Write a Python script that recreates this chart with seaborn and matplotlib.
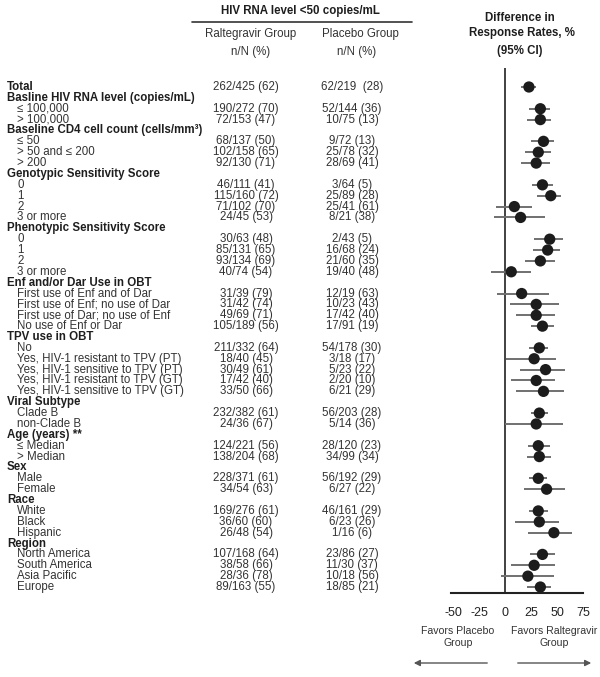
import seaborn as sns
import matplotlib.pyplot as plt
import numpy as np
import pandas as pd

# subgroup rows (bold = heading)
labels = [
    "Total", "Basline HIV RNA level (copies/mL)", "\u2264 100,000", "> 100,000",
    "Baseline CD4 cell count (cells/mm\u00b3)", "\u2264 50", "> 50 and \u2264 200", "> 200",
    "Genotypic Sensitivity Score", "0", "1", "2", "3 or more",
    "Phenotypic Sensitivity Score", "0", "1", "2", "3 or more",
    "Enf and/or Dar Use in OBT", "First use of Enf and of Dar", "First use of Enf; no use of Dar",
    "First use of Dar; no use of Enf", "No use of Enf or Dar",
    "TPV use in OBT", "No", "Yes, HIV-1 resistant to TPV (PT)", "Yes, HIV-1 sensitive to TPV (PT)",
    "Yes, HIV-1 resistant to TPV (GT)", "Yes, HIV-1 sensitive to TPV (GT)",
    "Viral Subtype", "Clade B", "non-Clade B",
    "Age (years) **", "\u2264 Median", "> Median",
    "Sex", "Male", "Female",
    "Race", "White", "Black", "Hispanic",
    "Region", "North America", "South America", "Asia Pacific", "Europe",
]
bold = [1, 1, 0, 0, 1, 0, 0, 0, 1, 0, 0, 0, 0, 1, 0, 0, 0, 0, 1, 0, 0, 0, 0,
        1, 0, 0, 0, 0, 0, 1, 0, 0, 1, 0, 0, 1, 0, 0, 1, 0, 0, 0, 1, 0, 0, 0, 0]
ral = [
    "262/425 (62)", "", "190/272 (70)", "72/153 (47)",
    "", "68/137 (50)", "102/158 (65)", "92/130 (71)",
    "", "46/111 (41)", "115/160 (72)", "71/102 (70)", "24/45 (53)",
    "", "30/63 (48)", "85/131 (65)", "93/134 (69)", "40/74 (54)",
    "", "31/39 (79)", "31/42 (74)", "49/69 (71)", "105/189 (56)",
    "", "211/332 (64)", "18/40 (45)", "30/49 (61)", "17/42 (40)", "33/50 (66)",
    "", "232/382 (61)", "24/36 (67)",
    "", "124/221 (56)", "138/204 (68)",
    "", "228/371 (61)", "34/54 (63)",
    "", "169/276 (61)", "36/60 (60)", "26/48 (54)",
    "", "107/168 (64)", "38/58 (66)", "28/36 (78)", "89/163 (55)",
]
pla = [
    "62/219  (28)", "", "52/144 (36)", "10/75 (13)",
    "", "9/72 (13)", "25/78 (32)", "28/69 (41)",
    "", "3/64 (5)", "25/89 (28)", "25/41 (61)", "8/21 (38)",
    "", "2/43 (5)", "16/68 (24)", "21/60 (35)", "19/40 (48)",
    "", "12/19 (63)", "10/23 (43)", "17/42 (40)", "17/91 (19)",
    "", "54/178 (30)", "3/18 (17)", "5/23 (22)", "2/20 (10)", "6/21 (29)",
    "", "56/203 (28)", "5/14 (36)",
    "", "28/120 (23)", "34/99 (34)",
    "", "56/192 (29)", "6/27 (22)",
    "", "46/161 (29)", "6/23 (26)", "1/16 (6)",
    "", "23/86 (27)", "11/30 (37)", "10/18 (56)", "18/85 (21)",
]
nan = np.nan
diff = [23, nan, 34, 34, nan, 37, 32, 30, nan, 36, 44, 9, 15, nan, 43, 41, 34, 6,
        nan, 16, 30, 30, 36, nan, 33, 28, 39, 30, 37, nan, 33, 30, nan, 32, 33,
        nan, 32, 40, nan, 32, 33, 47, nan, 36, 28, 22, 34]
ci_lo = [15, nan, 23, 21, nan, 25, 19, 15, nan, 26, 31, -9, -11, nan, 28, 27, 19, -13,
         nan, -8, 5, 11, 25, nan, 23, 1, 14, 6, 11, nan, 25, 0, nan, 22, 21,
         nan, 23, 18, nan, 23, 10, 22, nan, 24, 6, -4, 21]
ci_hi = [30, nan, 43, 44, nan, 47, 44, 43, nan, 46, 54, 26, 38, nan, 56, 53, 48, 25,
         nan, 42, 52, 48, 47, nan, 41, 49, 58, 48, 57, nan, 41, 56, nan, 43, 44,
         nan, 40, 58, nan, 41, 52, 64, nan, 48, 48, 47, 44]

df = pd.DataFrame({"label": labels, "bold": bold, "ral": ral, "pla": pla,
                   "diff": diff, "lo": ci_lo, "hi": ci_hi})
df["row"] = np.arange(len(df))

sns.set_theme(style="white")
plt.rcParams["font.family"] = ["Liberation Sans", "DejaVu Sans"]
plt.rcParams["axes.unicode_minus"] = False

W, H = 600, 677
ROW0, ROWH = 87, 10.87


def r(py):
    return (py - ROW0) / ROWH


fig = plt.figure(figsize=(W / 100, H / 100), dpi=100)
fig.patch.set_facecolor("white")

# text layer, x in pixels, y in row units
ax_t = fig.add_axes([0, 0, 1, 1])
ax_t.set_xlim(0, W)
ax_t.set_ylim(r(H), r(0))
ax_t.axis("off")

txt = "#1e1e1e"
fs = 8.3
for _, row in df.iterrows():
    if row["bold"]:
        ax_t.text(7, row["row"], row["label"], fontsize=fs, fontweight="bold",
                  color=txt, va="center", ha="left")
    else:
        ax_t.text(17, row["row"], row["label"], fontsize=fs, color="#333333",
                  va="center", ha="left")
    if row["ral"]:
        ax_t.text(246, row["row"], row["ral"], fontsize=fs, color="#333333",
                  va="center", ha="center")
        ax_t.text(352, row["row"], row["pla"], fontsize=fs, color="#333333",
                  va="center", ha="center")

# column headers
ax_t.text(300, r(11), "HIV RNA level <50 copies/mL", fontsize=8.3, fontweight="bold",
          color=txt, ha="center", va="center")
ax_t.plot([192, 412], [r(22), r(22)], color="#333333", lw=1.2)
ax_t.text(251, r(34), "Raltegravir Group", fontsize=8.3, color="#333333", ha="center", va="center")
ax_t.text(360, r(34), "Placebo Group", fontsize=8.3, color="#333333", ha="center", va="center")
ax_t.text(251, r(52), "n/N (%)", fontsize=8.3, color="#333333", ha="center", va="center")
ax_t.text(357, r(52), "n/N (%)", fontsize=8.3, color="#333333", ha="center", va="center")
ax_t.text(520, r(18), "Difference in", fontsize=8.3, fontweight="bold",
          color=txt, ha="center", va="center")
ax_t.text(522, r(33), "Response Rates, %", fontsize=8.3, fontweight="bold",
          color=txt, ha="center", va="center")
ax_t.text(520, r(51), "(95% CI)", fontsize=8.3, fontweight="bold", color=txt,
          ha="center", va="center")

# favors labels and arrows
ax_t.text(458, r(637), "Favors Placebo\nGroup", fontsize=7.6, color="#333333",
          ha="center", va="center", linespacing=1.2)
ax_t.text(554, r(637), "Favors Raltegravir\nGroup", fontsize=7.6, color="#333333",
          ha="center", va="center", linespacing=1.2)
ax_t.annotate("", xy=(411, r(663)), xytext=(490, r(663)),
              arrowprops=dict(arrowstyle="-|>", color="#555555", lw=1, mutation_scale=9))
ax_t.annotate("", xy=(594, r(663)), xytext=(515, r(663)),
              arrowprops=dict(arrowstyle="-|>", color="#555555", lw=1, mutation_scale=9))

# forest plot axes
x0, x1 = -55, 80
px_l, px_r = 505 + 1.04 * x0, 505 + 1.04 * x1
top_px, bot_px = 68, 593
ax_f = fig.add_axes([px_l / W, 1 - bot_px / H, (px_r - px_l) / W, (bot_px - top_px) / H])
ax_f.patch.set_alpha(0)
ax_f.set_xlim(x0, x1)
ax_f.set_ylim(r(bot_px), r(top_px))

est = df.dropna(subset=["diff"])
ax_f.hlines(est["row"], est["lo"], est["hi"], color="#707070", lw=1.4, zorder=2)
ax_f.axvline(0, color="#333333", lw=1.3, zorder=1)
sns.scatterplot(data=est, x="diff", y="row", s=66, color="#1c1c1c", edgecolor="none",
                ax=ax_f, zorder=3, legend=False)

for s in ["top", "right", "left"]:
    ax_f.spines[s].set_visible(False)
ax_f.spines["bottom"].set_bounds(-52, 75)
ax_f.spines["bottom"].set_color("#222222")
ax_f.spines["bottom"].set_linewidth(1.5)
ax_f.set_xticks([-50, -25, 0, 25, 50, 75])
ax_f.set_yticks([])
ax_f.tick_params(axis="x", direction="out", length=3, width=1, color="#222222",
                 labelsize=9, labelcolor="#222222", pad=7)
ax_f.set_xlabel("")
ax_f.set_ylabel("")

plt.savefig("out.png", dpi=100, facecolor="white")
